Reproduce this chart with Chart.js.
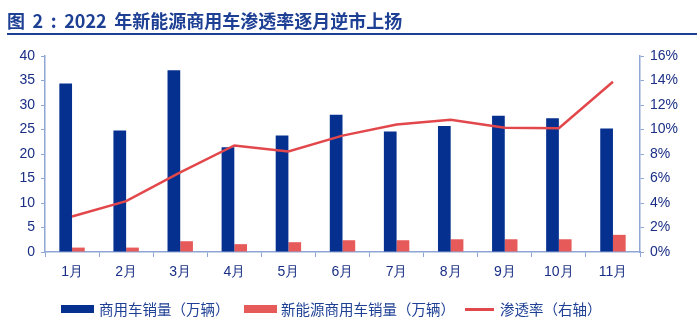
<!DOCTYPE html>
<html>
<head>
<meta charset="utf-8">
<script src="https://cdn.jsdelivr.net/npm/chart.js@4/dist/chart.umd.min.js"></script>
<style>
  html, body { margin: 0; padding: 0; background: #fff; }
  #wrap { position: relative; width: 700px; height: 325px; overflow: hidden; font-family: "Noto Sans CJK SC", "Liberation Sans", sans-serif; }
  #title { position: absolute; left: 7px; top: 8px; width: 690px; height: 25px; border-bottom: 2px solid #1d3f94;
           color: #1d3f94; font-weight: bold; font-size: 18px; line-height: 24px; white-space: pre; word-spacing: 3.5px; }
  #chartBox { position: absolute; left: 0; top: 0; width: 700px; height: 325px; }
  #legend { position: absolute; top: 299px; left: 0; width: 700px; height: 20px; font-size: 14.5px; color: #1d3f94; }
  .li { position: absolute; top: 0; height: 20px; line-height: 20px; white-space: nowrap; }
  .sw { position: absolute; }
</style>
</head>
<body>
<div id="wrap">
  <div id="chartBox"><canvas id="c" width="700" height="325"></canvas></div>
  <div id="title">图 2 : 2022 年新能源商用车渗透率逐月逆市上扬</div>
  <div id="legend"></div>
</div>
<script>
const categories = ["1月","2月","3月","4月","5月","6月","7月","8月","9月","10月","11月"];
const commercialSales = [34.4, 24.8, 37.1, 21.4, 23.8, 28.0, 24.6, 25.7, 27.8, 27.3, 25.2];
const nevCommercialSales = [0.9, 0.9, 2.2, 1.6, 2.0, 2.4, 2.4, 2.6, 2.6, 2.6, 3.5];
const penetrationRate = [2.9, 4.15, 6.5, 8.7, 8.2, 9.5, 10.4, 10.8, 10.15, 10.1, 13.9];
const leftTicks = [0, 5, 10, 15, 20, 25, 30, 35, 40];
const rightTicks = [0, 2, 4, 6, 8, 10, 12, 14, 16];
const seriesNames = ["商用车销量（万辆）", "新能源商用车销量（万辆）", "渗透率（右轴）"];

const blue = "#05308f";
const red = "#e65a5a";
const lineRed = "#e2474b";
const axisColor = "#8ea6d6";
const labelColor = "#1a2f85";
const tickFont = { family: "'Liberation Sans', Arial, sans-serif", size: 14 };

const chart = new Chart(document.getElementById("c"), {
  data: {
    labels: categories,
    datasets: [
      { type: "line", label: seriesNames[2], data: penetrationRate, yAxisID: "y1",
        borderColor: lineRed, borderWidth: 2.5, pointRadius: 0, tension: 0, order: 0 },
      { type: "bar", label: seriesNames[0], data: commercialSales, yAxisID: "y",
        backgroundColor: blue, categoryPercentage: 0.47, barPercentage: 1, order: 1 },
      { type: "bar", label: seriesNames[1], data: nevCommercialSales, yAxisID: "y",
        backgroundColor: red, categoryPercentage: 0.47, barPercentage: 1, order: 2 }
    ]
  },
  options: {
    responsive: false,
    animation: false,
    devicePixelRatio: 1,
    layout: { padding: { top: 56, left: 0, right: 0, bottom: 43 } },
    plugins: { legend: { display: false }, tooltip: { enabled: false }, title: { display: false } },
    scales: {
      x: {
        offset: true,
        grid: { offset: true, drawOnChartArea: false, drawTicks: true, tickLength: 5, color: axisColor },
        border: { color: axisColor, width: 1.5 },
        ticks: { color: labelColor, font: tickFont, padding: 7 },
        afterFit: s => { s.height = 30; }
      },
      y: {
        position: "left", min: 0, max: 40,
        afterBuildTicks: s => { s.ticks = leftTicks.map(v => ({ value: v })); },
        grid: { drawOnChartArea: false, drawTicks: true, tickLength: 4, color: axisColor },
        border: { color: axisColor, width: 1.5 },
        ticks: { color: labelColor, font: tickFont, padding: 6 },
        afterFit: s => { s.width = 45; }
      },
      y1: {
        position: "right", min: 0, max: 16,
        afterBuildTicks: s => { s.ticks = rightTicks.map(v => ({ value: v })); },
        grid: { drawOnChartArea: false, drawTicks: true, tickLength: 4, color: axisColor },
        border: { color: axisColor, width: 1.5 },
        ticks: { color: labelColor, font: tickFont, padding: 6, callback: v => v + "%" },
        afterFit: s => { s.width = 60; }
      }
    }
  }
});

// legend (HTML text, swatches coloured like the datasets)
const legend = document.getElementById("legend");
const items = [
  { name: seriesNames[0], color: blue, kind: "box", x: 61, tx: 99 },
  { name: seriesNames[1], color: red, kind: "box", x: 244, tx: 281 },
  { name: seriesNames[2], color: lineRed, kind: "line", x: 465, tx: 500 }
];
items.forEach(it => {
  const sw = document.createElement("div");
  sw.className = "sw";
  sw.style.left = it.x + "px";
  sw.style.background = it.color;
  if (it.kind === "box") { sw.style.top = "6px"; sw.style.width = "33px"; sw.style.height = "8px"; }
  else { sw.style.top = "9px"; sw.style.width = "29px"; sw.style.height = "2.5px"; }
  legend.appendChild(sw);
  const t = document.createElement("div");
  t.className = "li";
  t.style.left = it.tx + "px";
  t.textContent = it.name;
  legend.appendChild(t);
});
</script>
</body>
</html>
